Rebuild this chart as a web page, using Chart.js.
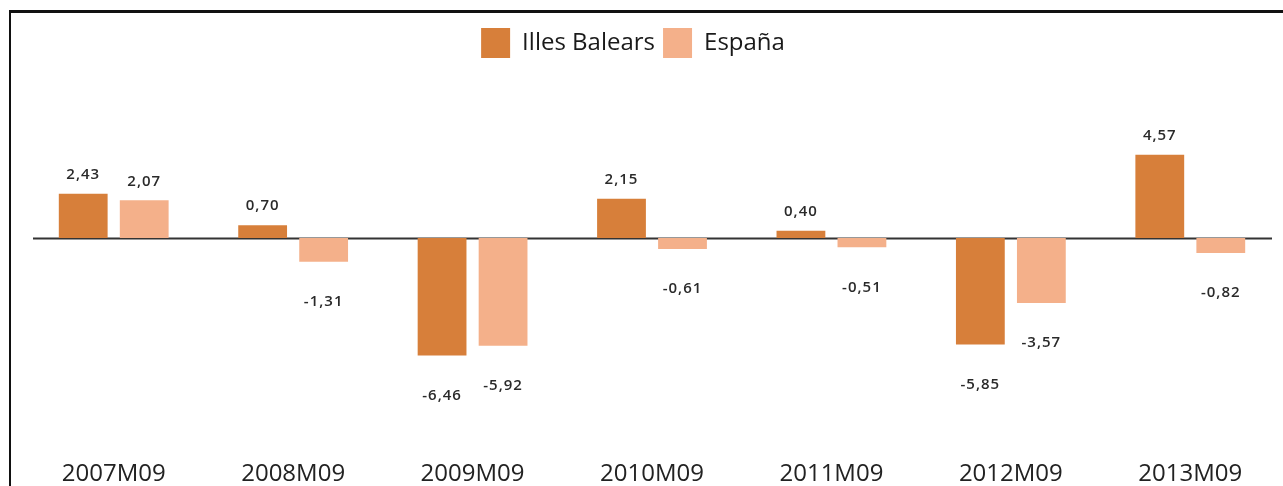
<!DOCTYPE html>
<html>
<head>
<meta charset="utf-8">
<script src="https://cdn.jsdelivr.net/npm/chart.js@4.4.1/dist/chart.umd.min.js"></script>
<style>
  html, body { margin: 0; padding: 0; background: #fff; }
  body { width: 1283px; height: 486px; position: relative; overflow: hidden; }
  .frame {
    position: absolute; left: 9px; top: 10px; right: -10px; bottom: -10px;
    border-top: 3px solid #111; border-left: 2px solid #111;
  }
  .holder { position: absolute; left: 0; top: 0; width: 1283px; height: 486px; }
</style>
</head>
<body>
<div class="frame"></div>
<div class="holder"><canvas id="chart" width="1283" height="486"></canvas></div>
<script>
const categories = ["2007M09", "2008M09", "2009M09", "2010M09", "2011M09", "2012M09", "2013M09"];
const illesBalears = [2.43, 0.70, -6.46, 2.15, 0.40, -5.85, 4.57];
const espana = [2.07, -1.31, -5.92, -0.61, -0.51, -3.57, -0.82];
const seriesNames = ["Illes Balears", "España"];

const fmt = (v) => v.toFixed(2).replace(".", ",");

// zero line drawn under the bars
const zeroLine = {
  id: "zeroLine",
  beforeDatasetsDraw(chart) {
    const { ctx, chartArea, scales } = chart;
    const y = Math.round(scales.y.getPixelForValue(0)) + 0.5;
    ctx.save();
    ctx.strokeStyle = "#333";
    ctx.lineWidth = 2;
    ctx.beginPath();
    ctx.moveTo(chartArea.left + 9, y);
    ctx.lineTo(chartArea.right - 8, y);
    ctx.stroke();
    ctx.restore();
  },
};

// value labels, above positive bars and well below negative ones
const valueLabels = {
  id: "valueLabels",
  afterDatasetsDraw(chart) {
    const { ctx } = chart;
    ctx.save();
    ctx.font = "600 15px 'Open Sans'";
    ctx.fillStyle = "#2a2a2a";
    ctx.textAlign = "center";
    ctx.textBaseline = "middle";
    if ("letterSpacing" in ctx) ctx.letterSpacing = "1px";
    chart.data.datasets.forEach((ds, i) => {
      chart.getDatasetMeta(i).data.forEach((bar, j) => {
        const v = ds.data[j];
        const y = v >= 0 ? bar.y - 19 : bar.y + 40;
        ctx.fillText(fmt(v), bar.x, y);
      });
    });
    ctx.restore();
  },
};

// the legend sits a little left of centre in the original
const legendShift = {
  id: "legendShift",
  afterLayout(chart) {
    chart.legend.left -= 19;
    chart.legend.right -= 19;
  },
};

new Chart(document.getElementById("chart"), {
  type: "bar",
  data: {
    labels: categories,
    datasets: [
      {
        label: seriesNames[0],
        data: illesBalears,
        backgroundColor: "#D77F3A",
        categoryPercentage: 0.68,
        barPercentage: 0.8,
      },
      {
        label: seriesNames[1],
        data: espana,
        backgroundColor: "#F4B08A",
        categoryPercentage: 0.68,
        barPercentage: 0.8,
      },
    ],
  },
  options: {
    responsive: false,
    animation: false,
    devicePixelRatio: 1,
    layout: { padding: { left: 24, right: 3, top: 20, bottom: 0 } },
    plugins: {
      tooltip: { enabled: false },
      legend: {
        position: "top",
        labels: {
          boxWidth: 29,
          boxHeight: 30,
          padding: 8,
          color: "#1a1a1a",
          font: { family: "'Open Sans'", size: 24 },
        },
      },
    },
    scales: {
      x: {
        grid: { display: false, drawTicks: false },
        border: { display: false },
        ticks: {
          color: "#222",
          padding: 0,
          font: { family: "'Open Sans'", size: 24, lineHeight: 1 },
        },
      },
      y: {
        display: false,
        min: -12.3,
        max: 9.33,
      },
    },
  },
  plugins: [zeroLine, valueLabels, legendShift],
});
</script>
</body>
</html>
